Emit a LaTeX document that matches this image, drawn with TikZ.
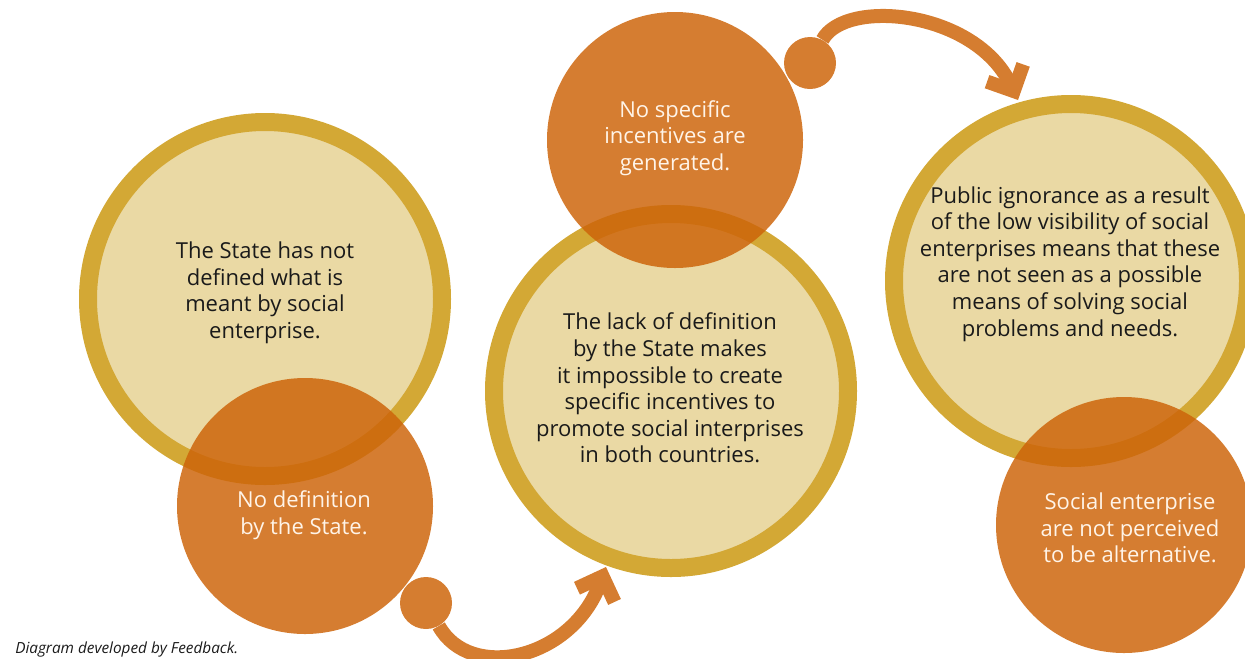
\documentclass[tikz,border=0pt]{standalone}
\usepackage{fontspec}
\setmainfont{Open Sans}
\usetikzlibrary{arrows.meta}
\usepackage{xcolor}

\definecolor{ringgold}{RGB}{211,168,53}
\definecolor{ringcream}{RGB}{234,217,164}
\definecolor{bubble}{RGB}{205,100,9}
\definecolor{flowcol}{RGB}{213,125,48}
\definecolor{bubbletext}{RGB}{255,244,232}
\definecolor{ringtext}{RGB}{26,26,26}

\tikzset{
  ring/.style={circle, draw=ringgold, fill=ringcream, line width=13.5pt, minimum size=265.5pt, inner sep=0pt},
  bubble/.style={circle, fill=bubble, fill opacity=0.84, minimum size=192pt, inner sep=0pt},
  dotstart/.style={circle, fill=flowcol, minimum size=39pt, inner sep=0pt},
  ringlabel/.style={align=center, text=ringtext, font=\fontsize{16.5}{19.9}\selectfont, inner sep=0.75pt},
  bubblelabel/.style={align=center, text=bubbletext, font=\fontsize{16.5}{19.9}\selectfont, inner sep=0.75pt},
  flow/.style={draw=flowcol, line width=10.5pt, -{Straight Barb[length=15pt, width=30pt]}}
}

\begin{document}
\begin{tikzpicture}[x=0.75pt,y=0.75pt,yscale=-1,xscale=1]
\useasboundingbox (0,0) rectangle (1245,658);

%Shape: Circle rings
\node [ring] (ring1) at (265,299) {};
\node [ring] (ring2) at (671,391) {};
\node [ring] (ring3) at (1071,281) {};

%Shape: Circle bubbles
\node [bubble] (bub1) at (305,506) {};
\node [bubble] (bub2) at (675,140) {};
\node [bubble] (bub3) at (1124,525) {};

%Curve Lines
\node [dotstart] (dot1) at (426,603) {};
\coordinate (tip1) at (606,567);
\draw [flow] (dot1) .. controls (470,682) and (572,660) .. (tip1);

\node [dotstart] (dot2) at (810,63) {};
\coordinate (tip2) at (1018,100);
\draw [flow] (dot2) .. controls (845,-2) and (975,10) .. (tip2);

% Text Node
\node [ringlabel] (txt1) at (265,293) {The State has not\\defined what is\\meant by social\\enterprise.};
% Text Node
\node [ringlabel] (txt2) at (670,388) {The lack of definition\\by the State makes\\it impossible to create\\specific incentives to\\promote social interprises\\in both countries.};
% Text Node
\node [ringlabel] (txt3) at (1070,264) {Public ignorance as a result\\of the low visibility of social\\enterprises means that these\\are not seen as a possible\\means of solving social\\problems and needs.};
% Text Node
\node [bubblelabel] (txt4) at (304,515) {No definition\\by the State.};
% Text Node
\node [bubblelabel] (txt5) at (675,138) {No specific\\incentives are\\generated.};
% Text Node
\node [bubblelabel] (txt6) at (1130,528) {Social enterprise\\are not perceived\\to be alternative.};
% Text Node
\node [anchor=south west, inner sep=0pt, font=\fontsize{11.5}{13}\itshape, text=ringtext] (note) at (15,657) {Diagram developed by Feedback.};

\end{tikzpicture}
\end{document}
